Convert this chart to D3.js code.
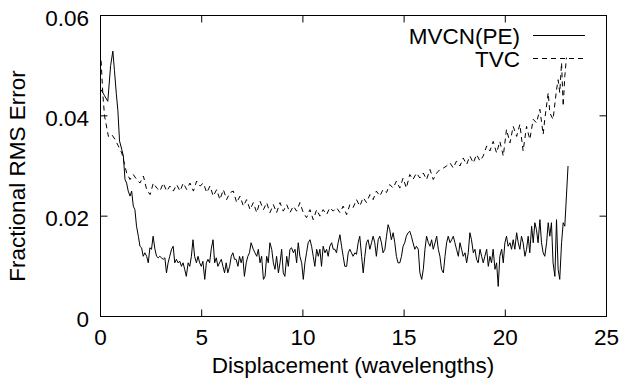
<!DOCTYPE html>
<html>
<head>
<meta charset="utf-8">
<script src="https://cdn.jsdelivr.net/npm/d3@7"></script>
<style>
  html, body { margin: 0; padding: 0; background: #fff; }
  svg { display: block; }
  text { font-family: "Liberation Sans", Arial, sans-serif; fill: #000; }
</style>
</head>
<body>
<svg id="chart" width="620" height="383"></svg>
<script>
// ---- data ----
const xTicks = [0, 5, 10, 15, 20, 25];
const yTicks = [0, 0.02, 0.04, 0.06];
const yTickLabels = ["0", "0.02", "0.04", "0.06"];
const xTitle = "Displacement (wavelengths)";
const yTitle = "Fractional RMS Error";
const seriesNames = ["MVCN(PE)", "TVC"];

const mvcnX = [0.03,0.20,0.36,0.50,0.61,0.69,0.78,0.86,0.94,1.05,1.13,1.21,1.29,1.37,1.46,1.54,1.62,1.70,1.78,1.87,
1.95,2.03,2.11,2.19,2.28,2.36,2.44,2.52,2.60,2.69,2.77,2.85,2.93,3.01,3.10,3.18,3.26,3.34,3.42,3.51,
3.59,3.67,3.75,3.83,3.92,4.00,4.08,4.16,4.24,4.33,4.41,4.49,4.57,4.65,4.74,4.82,4.90,4.98,5.06,5.15,
5.23,5.31,5.39,5.47,5.56,5.64,5.72,5.80,5.88,5.97,6.05,6.13,6.21,6.29,6.38,6.46,6.54,6.62,6.70,6.79,
6.87,6.95,7.03,7.11,7.20,7.28,7.36,7.44,7.55,7.63,7.72,7.80,7.88,7.96,8.05,8.13,8.21,8.29,8.37,8.46,
8.54,8.62,8.70,8.79,8.87,8.95,9.03,9.11,9.20,9.28,9.36,9.44,9.53,9.61,9.69,9.77,9.85,9.94,10.02,10.10,
10.18,10.26,10.35,10.43,10.51,10.59,10.68,10.76,10.84,10.92,11.00,11.09,11.17,11.25,11.33,11.42,11.50,11.58,11.66,11.74,
11.83,11.91,11.99,12.07,12.16,12.24,12.32,12.40,12.48,12.57,12.65,12.73,12.81,12.90,12.98,13.06,13.14,13.22,13.31,13.39,
13.47,13.55,13.63,13.72,13.80,13.88,13.96,14.05,14.13,14.21,14.29,14.37,14.46,14.54,14.62,14.70,14.79,14.87,14.95,15.03,
15.11,15.20,15.28,15.36,15.44,15.53,15.61,15.70,15.78,15.87,15.95,16.03,16.11,16.20,16.28,16.36,16.44,16.53,16.61,16.69,
16.77,16.85,16.94,17.02,17.10,17.18,17.27,17.35,17.43,17.51,17.59,17.68,17.76,17.84,17.92,18.01,18.09,18.17,18.25,18.33,
18.42,18.50,18.58,18.66,18.75,18.83,18.91,18.99,19.08,19.16,19.24,19.32,19.40,19.49,19.57,19.65,19.73,19.82,19.90,19.98,
20.06,20.14,20.23,20.31,20.39,20.47,20.56,20.64,20.72,20.80,20.88,20.97,21.05,21.13,21.21,21.30,21.38,21.46,21.54,21.62,
21.71,21.79,21.87,21.95,22.04,22.12,22.20,22.28,22.36,22.45,22.53,22.61,22.69,22.78,22.86,22.94,23.02,23.10];

const mvcnY = [0.0452,0.0440,0.0429,0.0500,0.0529,0.0490,0.0445,0.0410,0.0350,0.0333,0.0320,0.0273,0.0266,0.0250,0.0240,0.0250,0.0220,0.0213,0.0180,0.0160,
0.0140,0.0137,0.0120,0.0127,0.0120,0.0107,0.0137,0.0134,0.0160,0.0134,0.0120,0.0117,0.0120,0.0117,0.0114,0.0117,0.0087,0.0107,0.0120,0.0134,
0.0140,0.0107,0.0114,0.0107,0.0110,0.0100,0.0107,0.0094,0.0080,0.0107,0.0100,0.0120,0.0153,0.0120,0.0107,0.0120,0.0107,0.0100,0.0110,0.0074,
0.0107,0.0114,0.0107,0.0134,0.0153,0.0107,0.0117,0.0100,0.0107,0.0114,0.0100,0.0087,0.0107,0.0087,0.0100,0.0120,0.0127,0.0114,0.0114,0.0100,
0.0120,0.0107,0.0120,0.0080,0.0107,0.0120,0.0127,0.0147,0.0134,0.0127,0.0120,0.0134,0.0107,0.0120,0.0074,0.0080,0.0120,0.0107,0.0147,0.0134,
0.0107,0.0094,0.0120,0.0087,0.0107,0.0134,0.0087,0.0080,0.0120,0.0100,0.0134,0.0137,0.0127,0.0134,0.0107,0.0147,0.0120,0.0107,0.0074,0.0107,
0.0127,0.0147,0.0153,0.0140,0.0120,0.0100,0.0134,0.0120,0.0134,0.0100,0.0140,0.0127,0.0134,0.0120,0.0140,0.0147,0.0134,0.0134,0.0127,0.0147,
0.0163,0.0140,0.0120,0.0100,0.0100,0.0127,0.0134,0.0127,0.0120,0.0127,0.0124,0.0147,0.0160,0.0120,0.0087,0.0120,0.0147,0.0153,0.0134,0.0147,
0.0160,0.0147,0.0120,0.0153,0.0160,0.0147,0.0127,0.0134,0.0160,0.0183,0.0173,0.0153,0.0167,0.0147,0.0120,0.0107,0.0107,0.0120,0.0140,0.0147,
0.0160,0.0167,0.0170,0.0160,0.0147,0.0134,0.0140,0.0134,0.0087,0.0074,0.0094,0.0134,0.0160,0.0147,0.0140,0.0153,0.0134,0.0147,0.0160,0.0134,
0.0120,0.0094,0.0087,0.0120,0.0147,0.0160,0.0147,0.0153,0.0160,0.0147,0.0134,0.0120,0.0147,0.0134,0.0120,0.0127,0.0107,0.0127,0.0167,0.0153,
0.0127,0.0134,0.0114,0.0107,0.0134,0.0120,0.0107,0.0120,0.0134,0.0100,0.0120,0.0107,0.0134,0.0094,0.0107,0.0060,0.0120,0.0134,0.0107,0.0147,
0.0160,0.0140,0.0147,0.0134,0.0153,0.0134,0.0167,0.0147,0.0134,0.0160,0.0147,0.0120,0.0134,0.0160,0.0127,0.0180,0.0147,0.0187,0.0173,0.0147,
0.0193,0.0147,0.0127,0.0120,0.0147,0.0187,0.0160,0.0187,0.0107,0.0080,0.0193,0.0094,0.0074,0.0147,0.0187,0.0180,0.0240,0.0300];

const tvcX = [0.03,0.12,0.20,0.39,0.55,0.72,0.88,1.05,1.13,1.29,1.46,1.62,1.79,1.95,2.12,2.28,2.45,2.61,2.78,2.94,
3.10,3.27,3.43,3.60,3.76,3.93,4.09,4.26,4.42,4.59,4.75,4.92,5.08,5.25,5.41,5.57,5.74,5.90,6.07,6.23,
6.40,6.56,6.73,6.89,7.06,7.22,7.39,7.55,7.72,7.88,8.05,8.21,8.37,8.54,8.70,8.87,9.03,9.20,9.36,9.53,
9.69,9.85,10.02,10.18,10.35,10.51,10.68,10.84,11.00,11.17,11.33,11.50,11.66,11.83,11.99,12.16,12.32,12.48,12.65,12.81,
12.98,13.14,13.31,13.47,13.63,13.80,13.96,14.13,14.29,14.46,14.62,14.79,14.95,15.11,15.28,15.44,15.61,15.78,15.95,16.11,
16.28,16.44,16.61,16.77,16.94,17.10,17.27,17.43,17.59,17.76,17.92,18.09,18.25,18.42,18.58,18.75,18.91,19.08,19.24,19.40,
19.57,19.73,19.90,20.06,20.23,20.39,20.56,20.72,20.88,21.05,21.21,21.38,21.54,21.71,21.87,21.95,22.12,22.20,22.36,22.53,
22.61,22.69,22.78,22.86,22.94,23.02];

const tvcY = [0.0510,0.0440,0.0400,0.0359,0.0363,0.0353,0.0340,0.0326,0.0313,0.0286,0.0273,0.0283,0.0273,0.0266,0.0280,0.0253,0.0243,0.0266,0.0256,0.0250,
0.0266,0.0250,0.0260,0.0250,0.0263,0.0250,0.0266,0.0253,0.0266,0.0250,0.0270,0.0260,0.0266,0.0247,0.0260,0.0240,0.0253,0.0233,0.0253,0.0233,
0.0247,0.0250,0.0227,0.0240,0.0220,0.0233,0.0213,0.0227,0.0207,0.0230,0.0213,0.0227,0.0207,0.0223,0.0207,0.0227,0.0210,0.0223,0.0207,0.0220,
0.0210,0.0227,0.0207,0.0197,0.0213,0.0193,0.0213,0.0200,0.0213,0.0203,0.0217,0.0210,0.0217,0.0207,0.0220,0.0203,0.0223,0.0217,0.0233,0.0220,
0.0237,0.0227,0.0243,0.0233,0.0250,0.0240,0.0253,0.0247,0.0263,0.0256,0.0270,0.0256,0.0276,0.0256,0.0283,0.0273,0.0286,0.0276,0.0286,0.0273,
0.0293,0.0273,0.0286,0.0293,0.0296,0.0300,0.0306,0.0296,0.0310,0.0300,0.0316,0.0303,0.0320,0.0306,0.0323,0.0310,0.0320,0.0340,0.0330,0.0349,
0.0326,0.0349,0.0320,0.0373,0.0346,0.0379,0.0359,0.0383,0.0330,0.0379,0.0353,0.0393,0.0386,0.0413,0.0363,0.0393,0.0446,0.0406,0.0393,0.0452,
0.0472,0.0446,0.0506,0.0419,0.0479,0.0516];

// ---- chart ----
const W = 620, H = 383;
const svg = d3.select("#chart");
const x = d3.scaleLinear().domain([0, 25]).range([100.5, 606.5]);
const y = d3.scaleLinear().domain([0, 0.06]).range([316.5, 15.5]);
const FS = 22.5;
const tickLen = 7;

// data lines
const mvcn = mvcnX.map((v, i) => [v, mvcnY[i]]);
const tvc = tvcX.map((v, i) => [v, tvcY[i]]);
const line = d3.line().x(d => x(d[0])).y(d => y(d[1]));

svg.append("path").datum(tvc).attr("d", line)
  .attr("fill", "none").attr("stroke", "#000").attr("stroke-width", 1)
  .attr("stroke-dasharray", "5,4");
svg.append("path").datum(mvcn).attr("d", line)
  .attr("fill", "none").attr("stroke", "#000").attr("stroke-width", 1);

// frame
svg.append("rect")
  .attr("x", x(0)).attr("y", y(0.06))
  .attr("width", x(25) - x(0)).attr("height", y(0) - y(0.06))
  .attr("fill", "none").attr("stroke", "#000").attr("stroke-width", 1);

// ticks (inward, mirrored)
const tk = svg.append("g").attr("stroke", "#000").attr("stroke-width", 1);
xTicks.forEach(t => {
  tk.append("line").attr("x1", x(t)).attr("x2", x(t)).attr("y1", y(0)).attr("y2", y(0) - tickLen);
  tk.append("line").attr("x1", x(t)).attr("x2", x(t)).attr("y1", y(0.06)).attr("y2", y(0.06) + tickLen);
});
yTicks.forEach(t => {
  tk.append("line").attr("x1", x(0)).attr("x2", x(0) + tickLen).attr("y1", y(t)).attr("y2", y(t));
  tk.append("line").attr("x1", x(25)).attr("x2", x(25) - tickLen).attr("y1", y(t)).attr("y2", y(t));
});

// tick labels
svg.append("g").selectAll("text").data(xTicks).join("text")
  .attr("x", d => x(d)).attr("y", 345)
  .attr("text-anchor", "middle").attr("font-size", FS)
  .text(d => d);
svg.append("g").selectAll("text").data(yTicks).join("text")
  .attr("x", 89).attr("y", d => y(d) + 10)
  .attr("text-anchor", "end").attr("font-size", FS)
  .text((d, i) => yTickLabels[i]);

// axis titles
svg.append("text").attr("x", 353).attr("y", 373)
  .attr("text-anchor", "middle").attr("font-size", FS).text(xTitle);
svg.append("text").attr("transform", "translate(25,176) rotate(-90)")
  .attr("text-anchor", "middle").attr("font-size", FS).text(yTitle);

// legend
const legY = [35, 58];
const legDash = [null, "5,4"];
seriesNames.forEach((name, i) => {
  svg.append("text").attr("x", 520).attr("y", legY[i] + 9)
    .attr("text-anchor", "end").attr("font-size", FS).text(name);
  const l = svg.append("line").attr("x1", 533).attr("x2", 585)
    .attr("y1", legY[i] + 0.5).attr("y2", legY[i] + 0.5)
    .attr("stroke", "#000").attr("stroke-width", 1);
  if (legDash[i]) l.attr("stroke-dasharray", legDash[i]);
});
</script>
</body>
</html>
